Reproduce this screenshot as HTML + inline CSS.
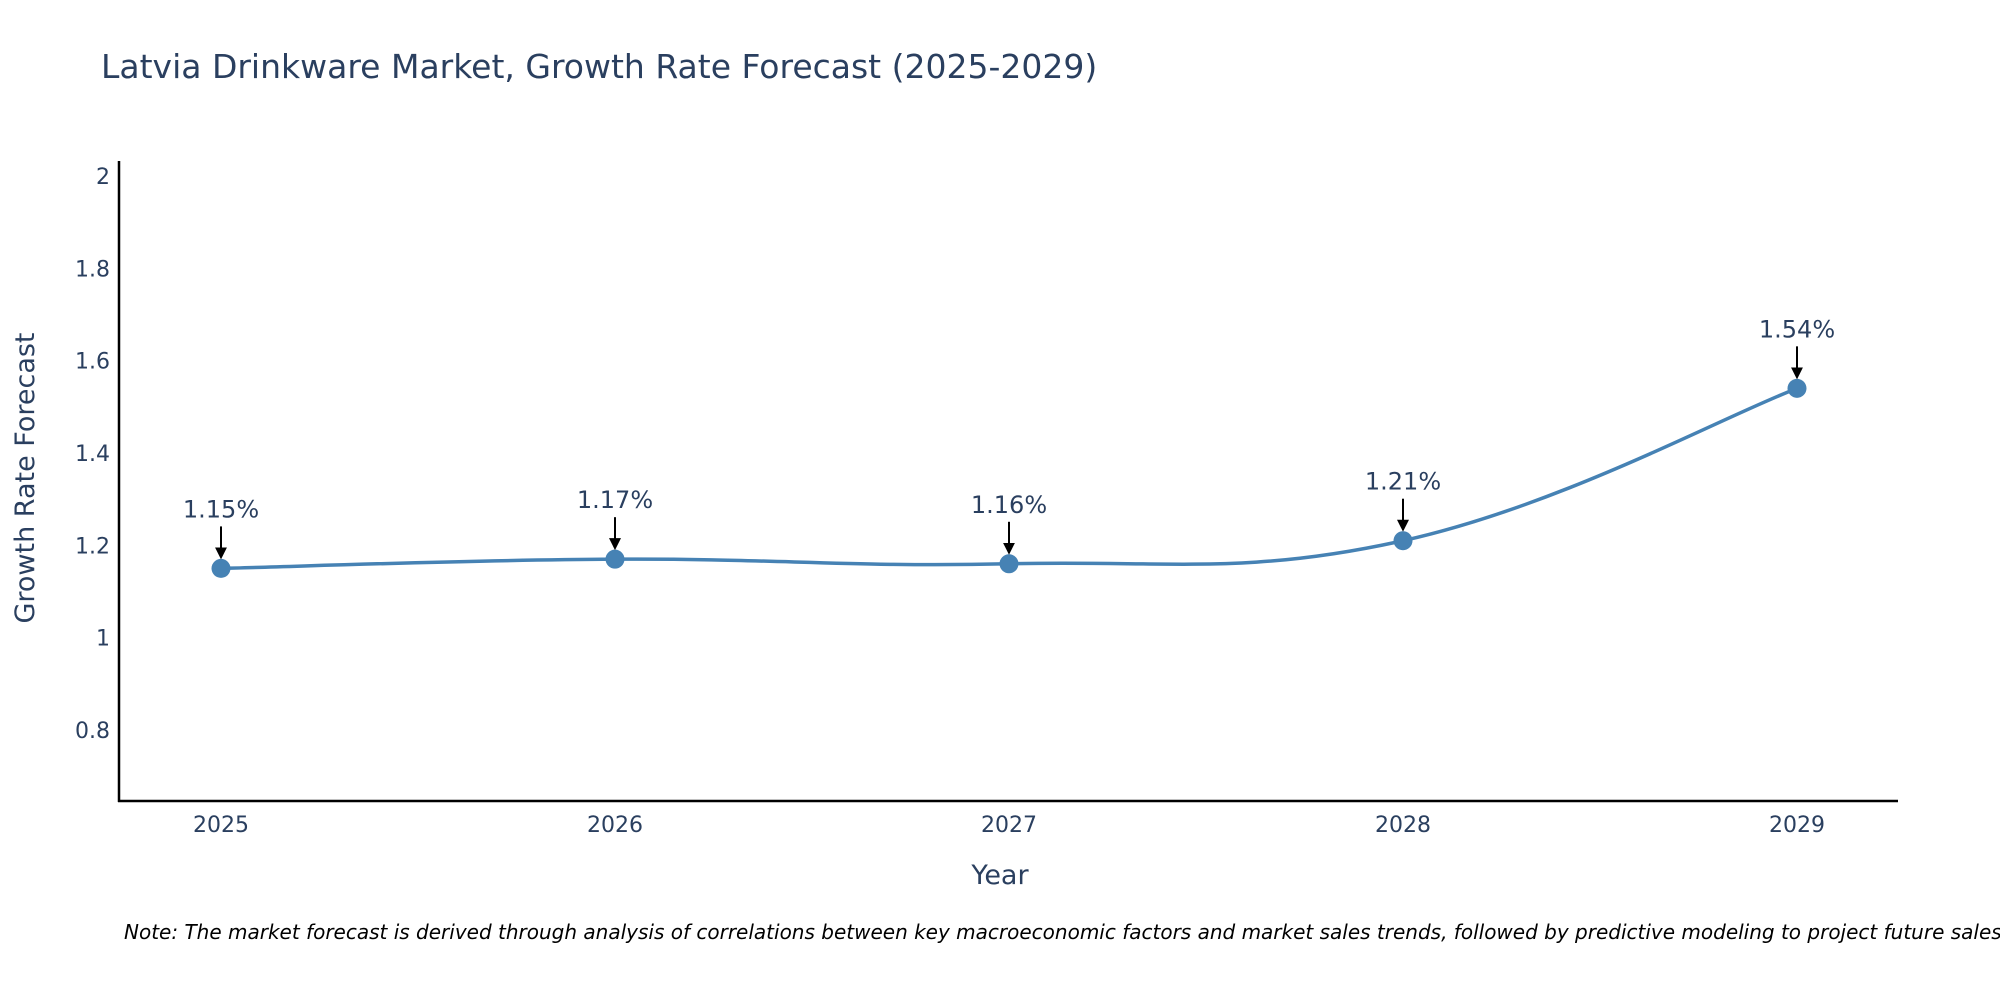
<!DOCTYPE html>
<html><head><meta charset="utf-8"><style>
body{margin:0;background:#fff;}
svg text{font-family:"DejaVu Sans","Liberation Sans",sans-serif;fill:#2a3f5f;}
</style></head><body>
<svg id="chart" width="2000" height="1000">
<text x="101" y="78" font-size="33">Latvia Drinkware Market, Growth Rate Forecast (2025-2029)</text>
<g id="yticks"></g><g id="xticks"></g>
<line x1="119" y1="161" x2="119" y2="802" stroke="#000" stroke-width="2.5"/>
<line x1="118" y1="801" x2="1898" y2="801" stroke="#000" stroke-width="2.5"/>
<path id="line" fill="none" stroke="#4682b4" stroke-width="3.5"/>
<g id="marks"></g>
<text x="1000" y="884" font-size="27" text-anchor="middle">Year</text>
<text transform="translate(34,478) rotate(-90)" font-size="27" text-anchor="middle">Growth Rate Forecast</text>
<text x="124" y="939" font-size="20" font-style="italic" style="fill:#000">Note: The market forecast is derived through analysis of correlations between key macroeconomic factors and market sales trends, followed by predictive modeling to project future sales</text>
</svg>
<script>
const years=[2025,2026,2027,2028,2029];
const values=[1.15,1.17,1.16,1.21,1.54];
const labels=["1.15%","1.17%","1.16%","1.21%","1.54%"];
const yTicks=[0.8,1,1.2,1.4,1.6,1.8,2];
const NS="http://www.w3.org/2000/svg";
const x=v=>221+(v-2025)*394;
const y=v=>730-(v-0.8)*461.7;
function mk(t,a,p){const e=document.createElementNS(NS,t);for(const k in a)e.setAttribute(k,a[k]);p.appendChild(e);return e;}
const yt=document.getElementById('yticks');
yTicks.forEach(v=>{const t=mk('text',{x:110,y:y(v)+8,'font-size':22,'text-anchor':'end'},yt);t.textContent=String(v);

});
const xt=document.getElementById('xticks');
years.forEach(v=>{const t=mk('text',{x:x(v),y:832,'font-size':22,'text-anchor':'middle'},xt);t.textContent=String(v);

});
const P=years.map((v,i)=>[x(v),y(values[i])]);
let d=`M${P[0][0]},${P[0][1]}`;const s=0.2;
for(let i=0;i<P.length-1;i++){const p0=P[Math.max(i-1,0)],p1=P[i],p2=P[i+1],p3=P[Math.min(i+2,P.length-1)];
d+=` C${p1[0]+(p2[0]-p0[0])*s},${p1[1]+(p2[1]-p0[1])*s} ${p2[0]-(p3[0]-p1[0])*s},${p2[1]-(p3[1]-p1[1])*s} ${p2[0]},${p2[1]}`;}
document.getElementById('line').setAttribute('d',d);
const g=document.getElementById('marks');
mk('defs',{},g).innerHTML='<marker id="ah" markerWidth="6" markerHeight="6" refX="5" refY="3" orient="auto"><path d="M0,0L6,3L0,6z" fill="#000"/></marker>';
P.forEach((p,i)=>{
const c=mk('circle',{cx:p[0],cy:p[1],r:9.5,fill:'#4682b4'},g);


const a=mk('line',{x1:p[0],y1:p[1]-42,x2:p[0],y2:p[1]-11,stroke:'#000','stroke-width':2,'marker-end':'url(#ah)'},g);


const t=mk('text',{x:p[0],y:p[1]-51,'font-size':24,'text-anchor':'middle'},g);t.textContent=labels[i];

});
</script>
</body></html>
